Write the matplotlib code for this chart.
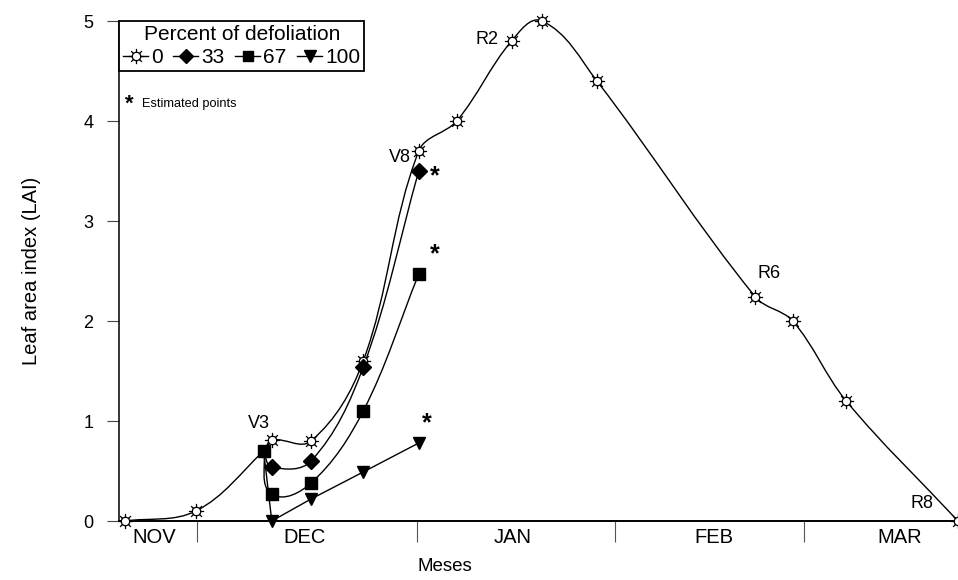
import numpy as np
import matplotlib
matplotlib.use('Agg')
import matplotlib.pyplot as plt
from matplotlib.path import Path
from matplotlib.patches import PathPatch
from matplotlib.lines import Line2D

plt.rcParams['font.family'] = ['Liberation Sans', 'DejaVu Sans']

# sampling dates (days from start of season) and LAI
dias = [1.0, 11.5, 21.5, 22.7, 28.5, 36.2, 44.4, 50.0, 58.1, 62.6, 70.7, 94.1, 99.6, 107.5, 124.0]
lai_0 = [0, 0.1, 0.7, 0.81, 0.8, 1.6, 3.7, 4.0, 4.8, 5.0, 4.4, 2.24, 2.0, 1.2, 0]

dias_def = [21.5, 22.7, 28.5, 36.2, 44.4]
lai_33 = [0.7, 0.54, 0.6, 1.54, 3.5]
lai_67 = [0.7, 0.27, 0.38, 1.1, 2.47]
lai_100 = [0.7, 0.0, 0.22, 0.49, 0.78]

meses = ['NOV', 'DEC', 'JAN', 'FEB', 'MAR']
centro_meses = [5.3, 27.6, 58.3, 88.0, 115.4]
limite_meses = [11.7, 44.2, 73.4, 101.3]

estadios = ['V3', 'V8', 'R2', 'R6', 'R8']
x_estadios = [20.8, 41.6, 54.5, 96.1, 118.7]
y_estadios = [0.98, 3.64, 4.82, 2.47, 0.18]

# '*' next to the last point of the defoliated series
x_est = [46.8, 46.8, 45.6]
y_est = [3.45, 2.67, 0.98]


def suave(ax, x, y, k=0.35):
    # smooth line through the points (bezier, drawn in display space)
    pts = ax.transData.transform(np.column_stack([x, y]))
    n = len(pts)
    tang = []
    for i in range(n):
        d = pts[min(i + 1, n - 1)] - pts[max(i - 1, 0)]
        tang.append(d / np.hypot(*d))
    verts = [pts[0]]
    codes = [Path.MOVETO]
    for i in range(n - 1):
        L = np.hypot(*(pts[i + 1] - pts[i]))
        verts += [pts[i] + tang[i] * L * k, pts[i + 1] - tang[i + 1] * L * k, pts[i + 1]]
        codes += [Path.CURVE4] * 3
    verts = ax.transData.inverted().transform(np.array(verts))
    return Path(verts, codes)


# open "sun" marker: small circle with 8 short rays
ang = np.arange(8) * np.pi / 4
rayos = [Path([[0.55 * np.cos(a), 0.55 * np.sin(a)], [np.cos(a), np.sin(a)]], [Path.MOVETO, Path.LINETO]) for a in ang]
circ = Path(Path.unit_circle().vertices * 0.55, Path.unit_circle().codes)
sol = Path.make_compound_path(circ, *rayos)
kw_sol = dict(marker=sol, ms=11, mfc='white', mec='black', mew=0.9)

fig = plt.figure(figsize=(9.58, 5.8), dpi=100)
ax = fig.add_axes([119 / 958, 59 / 580, 839 / 958, 500 / 580])
ax.set_xlim(0.15, 124)
ax.set_ylim(0, 5)

ax.add_patch(PathPatch(suave(ax, dias, lai_0), fc='none', ec='black', lw=1.0, clip_on=False))
for yy in [lai_33, lai_67]:
    ax.add_patch(PathPatch(suave(ax, dias_def, yy), fc='none', ec='black', lw=1.0))
ax.plot(dias_def, lai_100, color='black', lw=1.0)

marc0 = [i for i in range(len(dias)) if i != 2]
ax.plot(dias, lai_0, ls='none', markevery=marc0, clip_on=False, zorder=5, **kw_sol)
ax.plot(dias_def[1:], lai_33[1:], ls='none', marker='D', ms=8, color='black', zorder=5)
ax.plot(dias_def, lai_67, ls='none', marker='s', ms=8.5, color='black', zorder=5)
ax.plot(dias_def[1:], lai_100[1:], ls='none', marker='v', ms=9, color='black', clip_on=False, zorder=5)

for t, x, y in zip(estadios, x_estadios, y_estadios):
    ax.text(x, y, t, ha='center', va='center', fontsize=13)
for x, y in zip(x_est, y_est):
    ax.text(x, y, '*', ha='center', va='center', fontsize=18, fontweight='bold')

ax.text(0.012, 0.834, '*', transform=ax.transAxes, ha='center', va='center', fontsize=16, fontweight='bold')
ax.text(0.028, 0.834, 'Estimated points', transform=ax.transAxes, ha='left', va='center', fontsize=9.2)

handles = [Line2D([], [], color='black', lw=1.0, **kw_sol),
           Line2D([], [], color='black', lw=1.0, marker='D', ms=7),
           Line2D([], [], color='black', lw=1.0, marker='s', ms=7.5),
           Line2D([], [], color='black', lw=1.0, marker='v', ms=8)]
leg = ax.legend(handles, ['0', '33', '67', '100'], title='Percent of defoliation', ncol=4,
                loc='upper left', bbox_to_anchor=(0, 1), borderaxespad=0, fontsize=15,
                title_fontsize=15, handlelength=1.2, handletextpad=0.15, columnspacing=0.5,
                borderpad=0.2, labelspacing=0.2, fancybox=False, frameon=True)
leg.get_frame().set_edgecolor('black')
leg.get_frame().set_linewidth(1.3)
leg.get_frame().set_alpha(None)

ax.spines['top'].set_visible(False)
ax.spines['right'].set_visible(False)
ax.spines['left'].set_linewidth(1.1)
ax.spines['bottom'].set_linewidth(1.4)

ax.set_yticks([0, 1, 2, 3, 4, 5])
ax.tick_params(axis='y', direction='out', length=8.5, width=0.8, color='#444444', pad=10, labelsize=13)
ax.set_xticks(centro_meses)
ax.set_xticklabels(meses)
ax.set_xticks(limite_meses, minor=True)
ax.tick_params(axis='x', which='major', length=0, pad=5, labelsize=14.5)
ax.tick_params(axis='x', which='minor', length=15, width=0.8, color='#555555')

ax.set_ylabel('Leaf area index (LAI)', fontsize=14.5)
ax.yaxis.set_label_coords(-0.093, 0.5)
ax.set_xlabel('Meses', fontsize=13.5)
ax.xaxis.set_label_coords(0.388, -0.074)

fig.savefig('out.png', dpi=100)
